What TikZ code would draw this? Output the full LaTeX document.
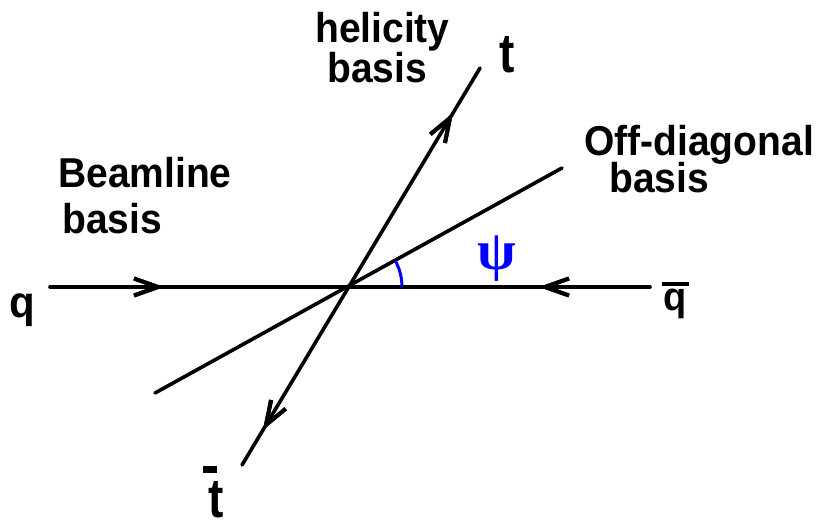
\documentclass[tikz,border=0pt]{standalone}
\usepackage{fontspec}
\setmainfont{Liberation Sans}
\newfontfamily\psifont{Liberation Serif}
\usetikzlibrary{arrows.meta,decorations.markings}
\tikzset{
  axis/.style={line width=3.6pt, line cap=round},
  lbl/.style={font=\bfseries\fontsize{39}{45}\selectfont, inner sep=0, anchor=base west},
  letter/.style={font=\bfseries\fontsize{#1}{45}\selectfont, inner sep=0, anchor=base},
  barb/.tip={Straight Barb[length=24pt,width=17pt,line width=4pt]},
  fwd/.style={postaction={decorate}, decoration={markings, mark=at position #1 with {\arrow{barb}}}},
  bwd/.style={postaction={decorate}, decoration={markings, mark=at position #1 with {\arrowreversed{barb}}}}
}
\begin{document}
\begin{tikzpicture}[x=1pt,y=-1pt]
\useasboundingbox (0,0) rectangle (817,520);
\coordinate (qL) at (50,287);
\coordinate (qR) at (650,287);
\coordinate (O) at (347,287);
\coordinate (hB) at (242,465);
\coordinate (hT) at (480,68);
\coordinate (dB) at (155,393);
\coordinate (dT) at (562,168);
\coordinate (arcS) at (402,287);

\draw[axis, fwd=0.19, bwd=0.815] (qL) -- (qR);
\draw[axis, fwd=0.887, bwd=0.088] (hB) -- (hT);
\draw[axis] (dB) -- (dT);
\draw[blue, line width=3pt] (arcS) arc[start angle=0, end angle=-28.5, radius=55];

\node[lbl] (beam1) at (58,187) {\scalebox{1}[1.07]{Beamline}};
\node[lbl] (beam2) at (62,233) {\scalebox{1}[1.07]{basis}};
\node[lbl] (hel1) at (315,42) {\scalebox{1}[1.07]{helicity}};
\node[lbl] (hel2) at (327,82) {\scalebox{1}[1.07]{basis}};
\node[lbl] (off1) at (584,155) {\scalebox{1}[1.07]{Off-diagonal}};
\node[lbl] (off2) at (609,192) {\scalebox{1}[1.07]{basis}};

\node[letter=46] (t) at (507,72) {\scalebox{1}[1.2]{t}};
\node[letter=46] (tbar) at (216,517) {\rlap{\kern-5pt\rule[44pt]{14pt}{7pt}}\scalebox{1}[1.2]{t}};
\node[letter=42] (q) at (22,317) {\scalebox{1}[1.05]{q}};
\node[letter=38] (qbar) at (675,310) {\rlap{\kern-1pt\rule[24pt]{27pt}{4.5pt}}\scalebox{1}[1.05]{q}};
\node[inner sep=0, text=blue, font=\psifont\bfseries\fontsize{56}{60}\selectfont] (psi) at (497,259) {ψ};
\end{tikzpicture}
\end{document}
